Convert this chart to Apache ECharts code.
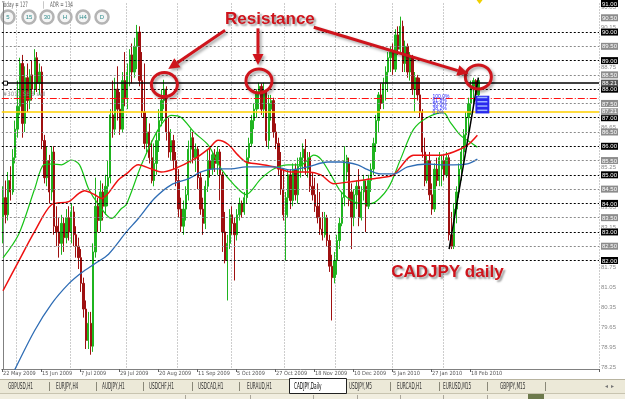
<!DOCTYPE html>
<html><head><meta charset="utf-8">
<script src="https://cdn.jsdelivr.net/npm/echarts@6/dist/echarts.min.js"></script>
<style>html,body{margin:0;padding:0;background:#fff}#c{width:625px;height:399px}</style>
</head><body><div id="c"></div>
<script>
// ---------- DATA ----------
const dateLabels = ['22 May 2009','15 Jun 2009','7 Jul 2009','29 Jul 2009','20 Aug 2009','11 Sep 2009','5 Oct 2009','27 Oct 2009','18 Nov 2009','10 Dec 2009','5 Jan 2010','27 Jan 2010','18 Feb 2010'];
const dateLabelIdx = [0,16,32,48,64,80,96,112,128,144,160,176,192];
const monthStartIdx = [6,28,51,72,94,116,137,160,181];
const totalSlots = 245;
// [open, close, low, high]
const candles = [
[83.5,84.2,82.6,84.6],[84.2,83.6,83.3,84.8],[83.6,84.8,83.4,85.1],[84.8,84.4,84.1,85.3],[84.4,85.6,84.3,85.9],
[85.6,86.6,85.4,86.9],[86.6,87.4,86.3,88.3],[87.4,88.9,87.1,89.1],[88.9,86.8,86.3,89.2],[86.8,88.4,86.5,88.8],
[88.4,87.6,87.2,88.9],[87.6,88.5,87.3,88.7],[88.5,88.0,87.6,89.0],[88.0,89.1,87.8,89.4],[89.1,88.2,87.9,89.3],
[88.2,88.6,87.8,88.9],[88.6,86.2,85.9,88.8],[86.2,84.9,84.7,86.4],[84.9,85.5,84.6,86.0],[85.5,84.4,84.0,85.7],
[84.4,85.8,84.1,86.0],[85.8,83.2,82.9,86.0],[83.2,83.0,82.5,83.9],[83.0,82.6,82.1,83.5],[82.6,83.3,82.2,83.6],
[83.3,82.8,82.3,83.5],[82.8,83.5,82.6,83.8],[83.5,83.0,82.7,83.9],[83.0,83.7,82.6,84.0],[83.7,82.9,82.5,83.9],
[82.9,82.5,82.1,83.2],[82.5,82.1,81.7,82.8],[82.1,81.2,80.9,82.4],[81.2,80.3,80.0,81.4],[80.3,79.2,78.9,80.6],
[79.2,79.8,78.9,80.2],[79.8,79.0,78.7,80.2],[79.0,82.3,78.8,82.6],[82.3,83.9,82.1,84.9],[83.9,83.4,83.0,84.2],
[83.4,84.4,83.0,84.8],[84.4,83.9,83.4,84.7],[83.9,84.6,83.6,85.0],[84.6,84.9,83.9,85.5],[84.9,87.1,84.7,87.3],
[87.1,86.6,86.3,88.3],[86.6,88.0,86.4,88.4],[88.0,87.3,86.9,88.8],[87.3,86.6,86.4,87.9],[86.6,88.3,86.5,88.6],
[88.3,87.7,87.4,89.3],[87.7,88.6,87.3,88.9],[88.6,89.2,88.1,89.4],[89.2,88.6,88.2,89.6],[88.6,89.5,88.4,89.8],
[89.5,90.0,88.7,90.25],[90.0,88.3,88.1,90.2],[88.3,87.2,87.0,89.3],[87.2,86.1,85.9,88.9],[86.1,86.5,85.8,87.0],
[86.5,85.6,85.4,86.8],[85.6,84.8,84.7,86.2],[84.8,85.4,84.6,86.1],[85.4,86.2,85.0,86.5],[86.2,86.9,85.8,87.3],
[86.9,87.6,86.7,88.0],[87.6,88.0,87.3,88.33],[88.0,86.5,86.2,88.1],[86.5,85.8,85.6,87.0],[85.8,86.2,85.5,86.6],
[86.2,85.5,85.2,86.4],[85.5,84.8,84.6,85.8],[84.8,83.8,83.5,85.2],[83.8,83.2,83.0,84.2],[83.2,83.8,82.9,84.1],
[83.8,84.3,83.4,84.6],[84.3,85.9,84.1,86.2],[85.9,86.3,85.4,86.6],[86.3,85.6,85.4,86.5],[85.6,85.9,85.1,86.1],
[85.9,84.9,84.5,86.0],[84.9,83.8,83.6,85.1],[83.8,83.3,82.9,84.2],[83.3,84.6,83.1,84.8],[84.6,85.5,84.4,85.9],
[85.5,85.2,84.9,85.9],[85.2,85.7,85.0,85.8],[85.7,85.4,85.1,85.9],[85.4,85.8,85.0,86.0],[85.8,85.0,84.1,85.9],
[85.0,83.0,82.3,85.1],[83.0,82.0,81.9,83.7],[82.0,82.6,80.6,82.9],[82.6,83.6,82.4,83.8],[83.6,83.3,82.9,83.9],
[83.3,82.9,81.3,83.5],[82.9,83.6,82.7,83.8],[83.6,84.0,83.4,84.2],[84.0,83.7,83.5,84.1],[83.7,84.2,83.6,84.4],
[84.2,85.6,84.0,85.9],[85.6,86.1,85.4,86.3],[86.1,86.9,86.0,87.1],[86.9,87.3,86.6,87.5],[87.3,87.9,87.0,88.0],
[87.9,88.1,87.3,88.23],[88.1,87.3,87.1,88.2],[87.3,87.9,87.0,88.23],[87.9,86.2,86.0,88.0],[86.2,87.5,85.9,87.8],
[87.3,87.6,86.9,87.8],[87.6,86.5,86.3,87.7],[86.5,86.1,85.9,86.8],[86.1,85.2,85.0,86.3],[85.2,84.5,84.3,85.8],
[84.5,83.6,83.4,85.2],[83.6,84.2,82.0,84.4],[84.2,85.0,83.5,85.2],[85.0,84.1,83.8,85.2],[84.1,85.2,83.9,85.4],
[85.2,84.3,84.1,85.4],[84.3,85.3,84.0,85.6],[85.3,85.6,84.9,85.8],[85.6,85.9,85.1,86.1],[85.9,85.2,85.0,86.25],
[85.2,85.6,84.9,85.8],[85.6,84.6,84.4,85.8],[84.6,84.3,84.1,85.1],[84.3,83.9,83.7,84.9],[83.9,83.5,83.3,84.7],
[83.5,83.1,82.9,84.4],[83.1,82.9,82.7,83.7],[82.9,83.5,82.8,83.7],[83.5,82.7,82.5,83.6],[82.7,81.8,81.6,82.9],
[81.8,81.4,79.9,82.2],[81.4,82.0,81.2,82.3],[82.0,82.7,81.5,82.9],[82.7,83.3,82.4,83.5],[83.3,84.2,83.2,84.4],
[84.2,85.5,83.9,86.0],[85.1,85.6,84.8,85.7],[85.4,84.1,83.9,85.6],[84.4,83.5,82.4,84.7],[83.5,84.3,83.2,84.5],
[84.3,84.6,83.8,84.8],[84.6,83.5,83.2,85.2],[83.5,84.4,83.4,84.6],[84.4,84.8,84.1,85.0],[84.6,83.9,83.0,84.8],
[83.9,84.8,83.8,85.0],[84.8,85.2,84.4,85.4],[85.2,86.1,85.0,86.3],[86.1,86.9,85.8,87.1],[86.9,87.8,86.5,87.9],
[87.8,87.5,87.3,88.2],[87.5,88.2,87.3,88.4],[88.2,88.6,87.6,88.8],[88.6,89.1,87.9,89.3],[89.1,89.3,88.6,89.5],
[89.3,88.7,88.5,89.6],[88.7,89.9,88.6,90.1],[89.9,89.4,89.2,90.2],[89.4,90.2,89.3,90.54],[90.2,88.9,88.6,90.4],
[88.9,89.5,88.6,89.7],[89.5,88.6,88.4,89.6],[88.6,89.1,88.3,89.3],[89.1,88.0,87.8,89.2],[88.0,88.4,87.2,88.6],
[88.4,87.8,87.6,88.5],[87.8,87.2,87.0,88.4],[87.2,85.8,85.6,87.3],[85.8,84.8,84.6,86.3],[84.8,85.5,84.7,85.7],
[85.5,84.3,84.1,85.8],[84.3,83.8,83.6,84.7],[83.8,85.2,83.7,85.4],[85.2,84.8,84.6,85.6],[84.8,85.6,84.6,85.8],
[85.2,85.5,84.6,85.7],[85.5,85.0,84.8,85.7],[85.0,85.6,84.9,85.8],[85.6,82.9,82.7,85.7],[82.9,82.5,82.4,83.7],
[82.5,83.8,82.4,84.0],[83.8,84.4,83.3,84.6],[84.4,85.2,84.2,85.4],[85.2,85.8,84.8,86.0],[85.8,86.4,85.4,86.6],
[86.4,87.0,86.0,87.2],[87.0,87.5,86.5,87.7],[87.5,88.1,87.1,88.3],[88.1,88.3,87.5,88.4],[88.3,87.8,87.6,88.35],
[87.8,88.3,87.7,88.4]
];
// moving averages: [bar index, price]
const maGreen = [[0,82.09],[6.45,82.92],[13,84.51],[16.7,85.35],[20,85.38],[24,85.35],[28.1,85.52],[31.4,85.35],[35.1,84.51],[39.2,83.96],[44.5,83.47],[48.6,83.82],[50.6,83.96],[56.8,85.35],[63.7,86.59],[69,87.08],[73.1,87.01],[78.4,86.49],[84.2,86.04],[89.5,85.21],[94.8,84.65],[99.7,84.31],[105.8,84.86],[111.2,85.21],[116.9,85.35],[122.2,85.35],[127.5,85.69],[130.4,85.55],[134.5,85.0],[138.6,84.41],[143.9,84.06],[148.8,83.99],[150.8,83.99],[157.8,84.51],[163.1,85.55],[168.4,86.59],[174.1,87.01],[180.7,87.18],[183.5,86.84],[187.6,86.39],[191.7,86.14],[194.6,85.97]];
const maRed = [[0,80.94],[6.45,81.98],[13,83.02],[20,83.96],[26.9,84.06],[31,84.34],[33.4,84.44],[37.5,84.31],[40.4,84.17],[47.4,84.83],[50.6,85.03],[55.5,85.35],[60.8,85.21],[64.9,85.10],[70.3,85.21],[78.4,85.55],[84.2,85.90],[88.3,86.21],[92.3,86.07],[96.4,85.69],[99.7,85.45],[104.6,85.38],[111.2,85.28],[118.1,85.10],[125.1,85.10],[130.4,85.0],[135.7,84.69],[142.7,84.76],[148.8,84.83],[154.9,84.90],[160.2,85.0],[168.4,85.69],[174.1,85.69],[179.5,85.69],[184.8,85.80],[190.5,86.04],[194.6,86.39]];
const maBlue = [[4.8,78.17],[13,79.55],[20,80.49],[26.9,81.18],[32.2,81.57],[37.5,81.88],[43.3,82.22],[50.6,83.0],[55.5,83.47],[62.1,84.17],[69,84.65],[76,84.86],[81.3,85.10],[86.6,85.21],[93.6,85.21],[99.7,85.28],[111.2,85.28],[118.1,85.17],[125.1,85.28],[133.2,85.45],[138.6,85.45],[145.5,85.35],[148.8,85.21],[154.9,85.03],[160.2,85.03],[166,85.28],[174.1,85.38],[179.5,85.35],[184.8,85.35],[190.5,85.38],[194.6,85.55]];
const levelsInt = [82,83,84,85,86,87,88,89,90];
const levelsHalf = [82.5,83.5,84.5,85.5,86.5,87.5,88.5,89.5];
const blackLevel = 88.21, yellowLevel = 87.21, redLevel = 87.67;
const trendLine = [[183,82.4],[195,88.4]];
const axisBoxInt = [82,83,84,85,86,87,88,89,90,91];
const axisBoxHalf = [82.5,83.5,84.5,85.5,86.5,87.5,88.5,89.5,90.5];
const axisPlain = [90.85,90.15,88.75,86.65,85.25,83.85,83.15,81.75,81.05,80.35,79.65,78.95,78.25];
// annotations (bar index, price)
const circleAnchors = [[66.2,88.16],[105,88.29],[195,88.43]];
const arrowAnchors = [[[91.1,90.06],[67.8,88.71]],[[104.6,90.13],[104.6,88.85]],[[127.5,90.17],[190.9,88.54]]];
const titleAnchor = [109.5,90.45];
const pairAnchor = [182.3,81.6];
const fibLabels = ['100.0%','61.8%','50.0%','38.2%','0.0%'];
const fibPrices = [87.74,87.60,87.46,87.32,87.18];
const fibIdx = 176.2;
const tabs = ['GBPUSD,H1','EURJPY,H4','AUDJPY,H1','USDCHF,H1','USDCAD,H1','EURAUD,H1','CADJPY,Daily','USDJPY,M5','EURCAD,H1','EURUSD,M15','GBPJPY,M15'];
const tabX = [8,56,102,149,198,247,294,349,397,443,500];
const tabSep = [49,96,143,192,239,545,390,439,487];
const activeTab = 6;
const buttons = ['5','15','30','H','H4','D'];

// ---------- CHART ----------
const FONT = '"Liberation Sans Narrow","DejaVu Sans Condensed","Liberation Sans",Arial,sans-serif';
const categories = Array.from({length: totalSlots}, (_, i) => String(i));
const labelMap = {}; dateLabelIdx.forEach((k, j) => labelMap[k] = dateLabels[j]);
const labelSet = new Set(dateLabelIdx), monthSet = new Set(monthStartIdx);
const cents = a => new Set(a.map(v => Math.round(v * 100)));
const sInt = cents(axisBoxInt), sHalf = cents(axisBoxHalf), sPlain = cents(axisPlain);

const ml = [];
levelsInt.forEach(v => ml.push({yAxis: v, lineStyle: {color: '#000', type: [2, 2], width: 1}}));
levelsHalf.forEach(v => ml.push({yAxis: v, lineStyle: {color: '#8a8a8a', type: [2, 2], width: 1}}));
ml.push({yAxis: redLevel, lineStyle: {color: '#ff1010', type: [7, 2, 1, 2], width: 1.2},
  label: {show: true, position: 'insideStartTop', formatter: '#3011 SE 8 sell', color: '#8a8a8a', fontSize: 6, distance: 1, fontFamily: FONT}});
ml.push({yAxis: yellowLevel, lineStyle: {color: '#ffd000', type: 'solid', width: 1.5},
  label: {show: true, position: 'end', formatter: yellowLevel.toFixed(2), color: '#fff', backgroundColor: '#9a9a9a', fontSize: 6, padding: [1, 1, 0, 1], distance: 2}});
ml.push({yAxis: blackLevel, lineStyle: {color: '#000', type: 'solid', width: 1.5},
  label: {show: true, position: 'end', formatter: blackLevel.toFixed(2), color: '#fff', backgroundColor: '#555', fontSize: 6, padding: [1, 1, 0, 1], distance: 2}});
ml.push([{coord: trendLine[0], lineStyle: {color: '#000', type: 'solid', width: 1.5}}, {coord: trendLine[1]}]);

const option = {
  animation: false,
  backgroundColor: '#fff',
  grid: {left: 0, top: 0, right: 26, bottom: 30},
  xAxis: [{
    type: 'category', data: categories, boundaryGap: true,
    axisLine: {show: true, lineStyle: {color: '#808080'}},
    axisTick: {show: true, interval: i => labelSet.has(i), length: 3, lineStyle: {color: '#606060'}},
    axisLabel: {show: true, interval: i => labelSet.has(i), formatter: (v, i) => labelMap[+v] || '', align: 'left',
      margin: 2, fontSize: 5.6, color: '#555', fontFamily: FONT, hideOverlap: false},
    splitLine: {show: true, interval: i => monthSet.has(i), lineStyle: {color: '#9a9a9a', type: [1, 2], width: 1}}
  }, {type: 'value', min: -0.5, max: totalSlots - 0.5, show: false}],
  yAxis: {
    type: 'value', position: 'right', min: 78.2, max: 91.0, interval: 0.05,
    axisLine: {show: true, lineStyle: {color: '#808080'}}, axisTick: {show: false}, splitLine: {show: false},
    axisLabel: {show: true, margin: 2, showMinLabel: true, showMaxLabel: true,
      formatter: v => { const c = Math.round(v * 100), t = (c / 100).toFixed(2);
        if (sInt.has(c)) return '{k|' + t + '}'; if (sHalf.has(c)) return '{g|' + t + '}'; if (sPlain.has(c)) return '{p|' + t + '}'; return ''; },
      rich: {
        k: {backgroundColor: '#000', color: '#fff', fontSize: 6, padding: [1, 1, 0, 1], fontFamily: 'Liberation Sans'},
        g: {backgroundColor: '#8c8c8c', color: '#fff', fontSize: 6, padding: [1, 1, 0, 1], fontFamily: 'Liberation Sans'},
        p: {color: '#8a8a8a', fontSize: 6, fontFamily: 'Liberation Sans'}
      }}
  },
  series: [
    {type: 'candlestick', data: candles, barWidth: '75%', z: 2,
      itemStyle: {color: '#1fb41f', color0: '#9e1010', borderColor: '#1fb41f', borderColor0: '#9e1010', borderWidth: 1},
      markLine: {silent: true, symbol: ['none', 'none'], animation: false, label: {show: false}, data: ml}},
    {type: 'line', xAxisIndex: 1, data: maGreen, showSymbol: false, smooth: 0.3, z: 3, lineStyle: {color: '#17c317', width: 1.2}},
    {type: 'line', xAxisIndex: 1, data: maRed, showSymbol: false, smooth: 0.3, z: 3, lineStyle: {color: '#ee1111', width: 1.5}},
    {type: 'line', xAxisIndex: 1, data: maBlue, showSymbol: false, smooth: 0.3, z: 3, lineStyle: {color: '#2f6db5', width: 1.3}}
  ]
};
const chart = echarts.init(document.getElementById('c'), null, {width: 625, height: 399});
chart.setOption(option);

// ---------- ANNOTATIONS ----------
const P = (x, y) => chart.convertToPixel({xAxisIndex: 1, yAxisIndex: 0}, [x, y]);
const RED = '#cf141c';
const SH = {shadowBlur: 3, shadowColor: 'rgba(0,0,0,0.35)', shadowOffsetX: 2, shadowOffsetY: 2};
const g = [];
circleAnchors.forEach(a => { const p = P(a[0], a[1]);
  g.push({type: 'ellipse', z: 100, shape: {cx: p[0], cy: p[1], rx: 13, ry: 12}, style: Object.assign({fill: 'none', stroke: RED, lineWidth: 3}, SH)}); });
arrowAnchors.forEach(a => { const s = P(a[0][0], a[0][1]), t = P(a[1][0], a[1][1]);
  const dx = t[0] - s[0], dy = t[1] - s[1], L = Math.hypot(dx, dy), ux = dx / L, uy = dy / L;
  const bx = t[0] - 11 * ux, by = t[1] - 11 * uy, nx = -uy, ny = ux;
  g.push({type: 'line', z: 100, shape: {x1: s[0], y1: s[1], x2: bx, y2: by}, style: Object.assign({stroke: RED, lineWidth: 3}, SH)});
  g.push({type: 'polygon', z: 100, shape: {points: [[t[0], t[1]], [bx + 5.5 * nx, by + 5.5 * ny], [bx - 5.5 * nx, by - 5.5 * ny]]}, style: Object.assign({fill: RED}, SH)}); });
const tp = P(titleAnchor[0], titleAnchor[1]);
g.push({type: 'text', z: 101, x: tp[0], y: tp[1], style: {text: 'Resistance', font: 'bold 17px "Liberation Sans", Arial', fill: RED, align: 'center', verticalAlign: 'middle', textShadowColor: 'rgba(0,0,0,0.4)', textShadowBlur: 2, textShadowOffsetX: 2, textShadowOffsetY: 2}});
const pp = P(pairAnchor[0], pairAnchor[1]);
g.push({type: 'text', z: 101, x: pp[0], y: pp[1], style: {text: 'CADJPY daily', font: 'bold 17px "Liberation Sans", Arial', fill: RED, align: 'center', verticalAlign: 'middle', textShadowColor: 'rgba(0,0,0,0.4)', textShadowBlur: 2, textShadowOffsetX: 2, textShadowOffsetY: 2}});
fibLabels.forEach((t, j) => { const p = P(fibIdx, fibPrices[j]);
  g.push({type: 'text', z: 99, x: p[0], y: p[1], style: {text: t, fontSize: 5, fontFamily: 'Liberation Sans', fill: '#2020ff', align: 'left', verticalAlign: 'middle'}}); });
const fb1 = P(193.8, 87.77), fb2 = P(199.5, 87.15);
g.push({type: 'rect', z: 99, shape: {x: fb1[0], y: fb1[1], width: fb2[0] - fb1[0], height: fb2[1] - fb1[1]}, style: {fill: '#2a2aee'}});
[87.7, 87.55, 87.4, 87.25].forEach(v => { const p = P(194.6, v);
  g.push({type: 'rect', z: 99, shape: {x: p[0], y: p[1] - 1, width: 10, height: 1.5}, style: {fill: '#9db4ff'}}); });
const bl = P(0, blackLevel);
g.push({type: 'rect', z: 99, shape: {x: bl[0] + 0.5, y: bl[1] - 2, width: 4, height: 4}, style: {fill: '#fff', stroke: '#000', lineWidth: 1}});
const tri = P(195.5, 91.0);
g.push({type: 'polygon', z: 99, shape: {points: [[tri[0] - 3, 0], [tri[0] + 3, 0], [tri[0], 4]]}, style: {fill: '#f0d000'}});
// header info
g.push({type: 'text', x: 2, y: 5, scaleX: 0.55, z: 120, style: {text: 'Today = 127', fontSize: 7.5, fontFamily: 'DejaVu Sans', fill: '#666', verticalAlign: 'middle'}});
g.push({type: 'text', x: 43, y: 5, scaleX: 0.55, z: 120, style: {text: '|', fontSize: 7.5, fontFamily: 'DejaVu Sans', fill: '#666', verticalAlign: 'middle'}});
g.push({type: 'text', x: 50, y: 5, scaleX: 0.55, z: 120, style: {text: 'ADR = 134', fontSize: 7.5, fontFamily: 'DejaVu Sans', fill: '#666', verticalAlign: 'middle'}});
const btnX = [8, 29, 47, 65, 83, 102];
buttons.forEach((b, j) => {
  g.push({type: 'circle', shape: {cx: btnX[j], cy: 17, r: 6.5}, style: {fill: '#f5f5f5', stroke: '#b4b4b4', lineWidth: 2.5}});
  g.push({type: 'text', x: btnX[j], y: 17, style: {text: b, fontSize: 6, fontFamily: 'Liberation Sans', fill: '#2f8c8c', align: 'center', verticalAlign: 'middle'}});
});
// tab bar
g.push({type: 'rect', shape: {x: 0, y: 379, width: 625, height: 14}, style: {fill: '#ece9d8'}});
g.push({type: 'line', shape: {x1: 0, y1: 379.5, x2: 625, y2: 379.5}, style: {stroke: '#b8b4a0', lineWidth: 1}});
g.push({type: 'rect', shape: {x: 0, y: 393, width: 625, height: 6}, style: {fill: '#f1eee0'}});
g.push({type: 'line', shape: {x1: 0, y1: 393.5, x2: 625, y2: 393.5}, style: {stroke: '#c8c4b0', lineWidth: 1}});
[185, 250, 313, 357, 400, 443, 487].forEach(x => g.push({type: 'line', shape: {x1: x + 0.5, y1: 395, x2: x + 0.5, y2: 399}, style: {stroke: '#aaa69a', lineWidth: 1}}));
g.push({type: 'rect', shape: {x: 528, y: 394, width: 16, height: 5}, style: {fill: '#6d7a4c'}});
g.push({type: 'rect', shape: {x: 289.5, y: 378.5, width: 57, height: 15}, style: {fill: '#fff', stroke: '#222', lineWidth: 1}});
tabSep.forEach(x => g.push({type: 'line', shape: {x1: x + 0.5, y1: 382, x2: x + 0.5, y2: 391}, style: {stroke: '#8a8878', lineWidth: 1}}));
tabs.forEach((t, j) => g.push({type: 'text', x: tabX[j], y: 386.5, scaleX: 0.53,
  style: {text: t, fontSize: 8, fontFamily: 'DejaVu Sans', fill: j === activeTab ? '#000' : '#333', verticalAlign: 'middle'}}));
g.push({type: 'text', x: 605, y: 386.5, style: {text: '◂  ▸', fontSize: 6, fill: '#777', verticalAlign: 'middle'}});
chart.setOption({graphic: g});
</script>
</body></html>
